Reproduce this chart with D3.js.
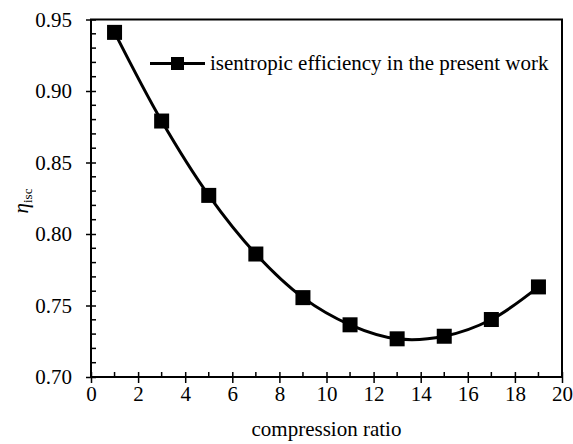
<!DOCTYPE html>
<html><head><meta charset="utf-8">
<script src="https://cdn.jsdelivr.net/npm/d3@7"></script>
<style>body{margin:0;background:#fff}svg{display:block}</style>
</head><body>
<script>
const ratios = [1, 3, 5, 7, 9, 11, 13, 15, 17, 19];
const efficiency = [0.941, 0.879, 0.827, 0.786, 0.7555, 0.7365, 0.7267, 0.7285, 0.7402, 0.763];
const xTicks = [0, 2, 4, 6, 8, 10, 12, 14, 16, 18, 20];
const yTicks = [0.70, 0.75, 0.80, 0.85, 0.90, 0.95];
const seriesName = "isentropic efficiency in the present work";

const W = 573, H = 444;
const FONT = "Liberation Serif";
const FS = 21;
const m = {l: 91, r: 562, t: 19.5, b: 377};
const svg = d3.select("body").append("svg").attr("width", W).attr("height", H).attr("font-family", FONT);
const x = d3.scaleLinear().domain([0, 20]).range([m.l, m.r]);
const y = d3.scaleLinear().domain([0.70, 0.95]).range([m.b, m.t]);

// minor ticks (inside)
const xMinor = d3.range(1, 20, 2);
svg.append("g").selectAll("line").data(xMinor).join("line")
  .attr("x1", d => x(d)).attr("x2", d => x(d)).attr("y1", m.b).attr("y2", m.b - 5)
  .attr("stroke", "#000").attr("stroke-width", 1.5);
const yMinor = d3.range(0.71, 0.95, 0.01).filter(v => Math.abs(Math.round(v * 20) - v * 20) > 0.01);
svg.append("g").selectAll("line").data(yMinor).join("line")
  .attr("x1", m.l).attr("x2", m.l + 5).attr("y1", d => y(d)).attr("y2", d => y(d))
  .attr("stroke", "#000").attr("stroke-width", 1.5);

// axes with crossing major ticks
const xAxis = svg.append("g").attr("transform", `translate(0,${m.b})`)
  .call(d3.axisBottom(x).tickValues(xTicks).tickSize(6).tickSizeOuter(0).tickPadding(3).tickFormat(d3.format("d")));
xAxis.attr("font-family", FONT);
xAxis.select(".domain").remove();
xAxis.selectAll(".tick line").attr("y1", -5).attr("stroke-width", 1.5);
xAxis.selectAll("text").attr("font-size", FS).attr("font-family", FONT);

const yAxis = svg.append("g").attr("transform", `translate(${m.l},0)`)
  .call(d3.axisLeft(y).tickValues(yTicks).tickSize(5).tickSizeOuter(0).tickPadding(14).tickFormat(d3.format(".2f")));
yAxis.attr("font-family", FONT);
yAxis.select(".domain").remove();
yAxis.selectAll(".tick line").attr("x1", 5).attr("stroke-width", 1.5);
yAxis.selectAll("text").attr("font-size", FS).attr("font-family", FONT);

// frame
svg.append("rect").attr("x", m.l).attr("y", m.t).attr("width", m.r - m.l).attr("height", m.b - m.t)
  .attr("fill", "none").attr("stroke", "#000").attr("stroke-width", 2);

// line
const pts = ratios.map((r, i) => [r, efficiency[i]]);
svg.append("path").datum(pts)
  .attr("d", d3.line().x(d => x(d[0])).y(d => y(d[1])).curve(d3.curveCatmullRom.alpha(0.5)))
  .attr("fill", "none").attr("stroke", "#000").attr("stroke-width", 3);

const ms = 15;
svg.append("g").selectAll("rect").data(pts).join("rect")
  .attr("x", d => x(d[0]) - ms / 2).attr("y", d => y(d[1]) - ms / 2)
  .attr("width", ms).attr("height", ms).attr("fill", "#000");

// legend
const lg = svg.append("g");
lg.append("line").attr("x1", 150).attr("x2", 205).attr("y1", 63.5).attr("y2", 63.5)
  .attr("stroke", "#000").attr("stroke-width", 3);
lg.append("rect").attr("x", 177.5 - 6.5).attr("y", 63.5 - 6.5).attr("width", 13).attr("height", 13).attr("fill", "#000");
lg.append("text").attr("x", 210).attr("y", 69.5).attr("font-size", FS).attr("font-family", FONT).text(seriesName);

// axis titles
svg.append("text").attr("x", (m.l + m.r) / 2).attr("y", 436).attr("text-anchor", "middle")
  .attr("font-size", FS).attr("font-family", FONT).text("compression ratio");
const yl = svg.append("text").attr("transform", "translate(28,201) rotate(-90)").attr("text-anchor", "middle")
  .attr("font-size", 21).attr("font-family", FONT);
yl.append("tspan").attr("font-style", "italic").text("η");
yl.append("tspan").attr("font-size", 13).attr("dy", 4).text("isc");
</script>
</body></html>
